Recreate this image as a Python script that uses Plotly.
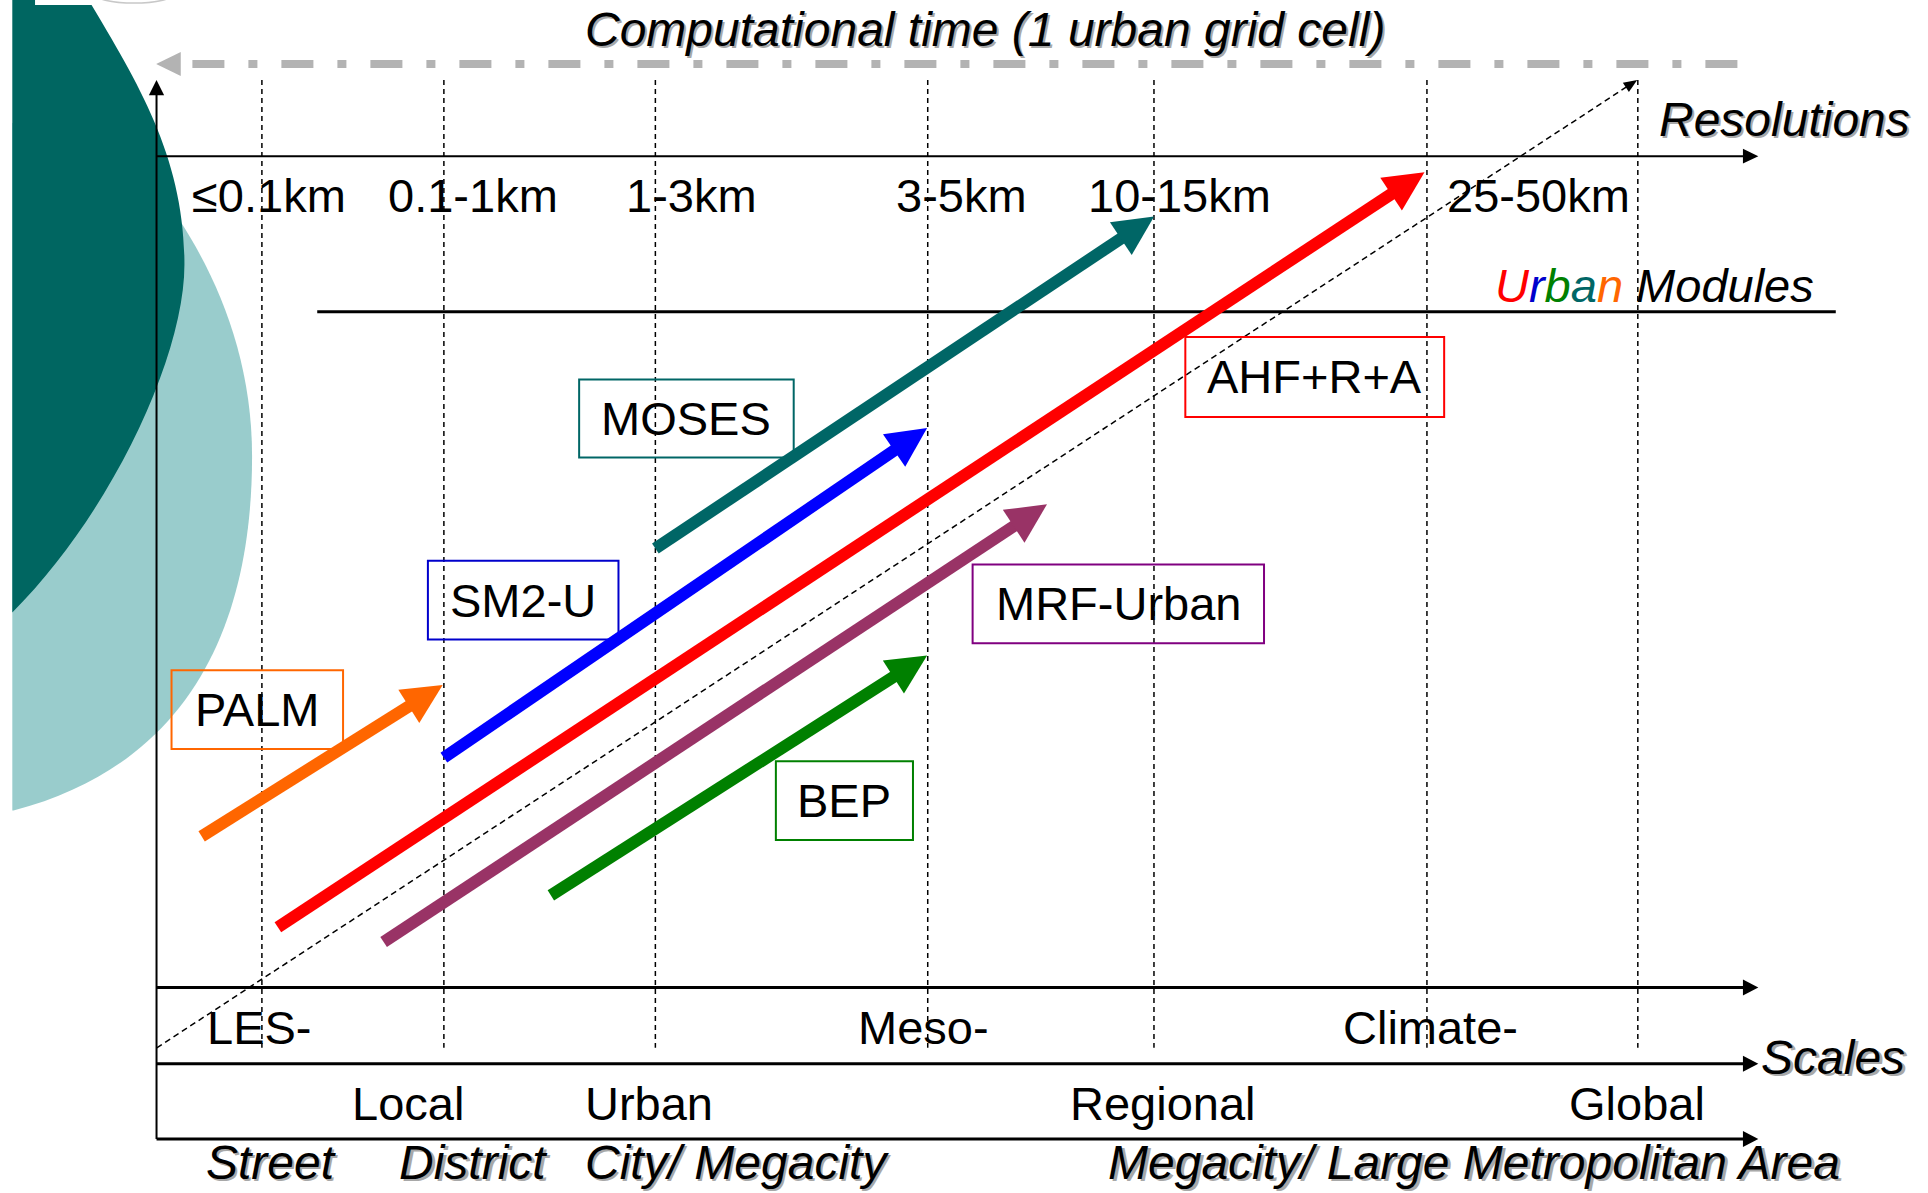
import math
import plotly.graph_objects as go

W, H = 1928, 1193
XR, YR = 1568, 970          # diagram units (page is isotropic in these units)

FONT = "Arial, 'Liberation Sans', sans-serif"

# ---------------- data ----------------
grid_x = [213, 361, 533, 754.5, 938.5, 1160.5, 1332]
grid_top, grid_bottom = 65, 852

res_labels = ["≤0.1km", "0.1-1km", "1-3km", "3-5km", "10-15km", "25-50km"]
res_label_x = [218.5, 385, 562, 782, 959, 1251]
res_label_y = 159

scale_row1 = ["LES-", "Meso-", "Climate-"]
scale_row1_x = [211, 751, 1163]
scale_row1_y = 835.5
scale_row2 = ["Local", "Urban", "Regional", "Global"]
scale_row2_x = [331.7, 527.5, 946, 1331]
scale_row2_y = 897
scale_row3 = ["Street", "District", "City/ Megacity", "Megacity/ Large Metropolitan Area"]
scale_row3_x = [220, 385, 599, 1199]
scale_row3_y = 945.5

modules = ["PALM", "SM2-U", "MOSES", "AHF+R+A", "MRF-Urban", "BEP"]
arrow_x0 = [164, 361, 533, 226, 312, 448]
arrow_y0 = [680, 616, 446, 754, 766, 728]
arrow_x1 = [360, 754, 938.6, 1158.5, 851.5, 754]
arrow_y1 = [557, 348, 176, 140, 410, 533]
arrow_colors = ["#ff6600", "#0000ff", "#006666", "#ff0000", "#993366", "#008000"]

box_x0 = [139.5, 348, 471, 964, 791, 631]
box_x1 = [279, 503, 645.5, 1174.5, 1028, 742.5]
box_y0 = [545, 456, 308.5, 274, 459, 619]
box_y1 = [609, 520, 372, 339, 523, 683]
box_colors = ["#ff6600", "#0000cc", "#006666", "#ff0000", "#800080", "#008000"]

axis_x0, axis_x1 = 127.3, 1430
res_axis_y = 127
scale_axes_y = [803, 865, 926]
vaxis_top = 65

diag_x = [127.5, 1331.5]
diag_y = [852, 65]

time_arrow_y = 52
time_arrow_x = [1413, 127]

urban_line_x = [258, 1493]
urban_line_y = 253.5

urban_word = ["U", "r", "b", "a", "n"]
urban_colors = ["#ff0000", "#0000cc", "#008000", "#006666", "#ff6600"]

# ---------------- helpers ----------------
shapes = []
annotations = []


def line(x0, y0, x1, y1, color, width, dash=None):
    ln = dict(color=color, width=width)
    if dash:
        ln["dash"] = dash
    shapes.append(dict(type="line", xref="x", yref="y", x0=x0, y0=y0, x1=x1, y1=y1,
                       line=ln, layer="above"))


def head(xs, ys, xt, yt, L, hw, color):
    dx, dy = xt - xs, yt - ys
    n = math.hypot(dx, dy)
    ux, uy = dx / n, dy / n
    bx, by = xt - L * ux, yt - L * uy
    px, py = -uy, ux
    p = (f"M {xt:.2f},{yt:.2f} L {bx + hw * px:.2f},{by + hw * py:.2f} "
         f"L {bx - hw * px:.2f},{by - hw * py:.2f} Z")
    shapes.append(dict(type="path", xref="x", yref="y", path=p, fillcolor=color,
                       line=dict(width=0), layer="above"))


def arrow(xs, ys, xt, yt, color, width, L, hw, dash=None):
    n = math.hypot(xt - xs, yt - ys)
    k = (L - 1) if dash else 0.6 * L
    ex, ey = xt - k * (xt - xs) / n, yt - k * (yt - ys) / n
    line(xs, ys, ex, ey, color, width, dash)
    head(xs, ys, xt, yt, L, hw, color)


def text(x, y, s, size=47, italic=False, shadow=False, xanchor="center", color="black"):
    style = "italic" if italic else "normal"
    if shadow:
        annotations.append(dict(x=x, y=y, xref="x", yref="y", text=s, showarrow=False,
                                xanchor=xanchor, yanchor="middle", xshift=2.5, yshift=-2,
                                font=dict(family=FONT, size=size, color="#a8a8a8", style=style)))
    annotations.append(dict(x=x, y=y, xref="x", yref="y", text=s, showarrow=False,
                            xanchor=xanchor, yanchor="middle",
                            font=dict(family=FONT, size=size, color=color, style=style)))


# ---------------- background decoration ----------------
shapes.append(dict(type="path", xref="x", yref="y", layer="below",
                   path="M 10,100 L 90,110 C 140,160 205,250 205,371 C 205,500 160,620 11,659 L 10,659 Z",
                   fillcolor="#99cccc", line=dict(width=0)))
shapes.append(dict(type="path", xref="x", yref="y", layer="below",
                   path="M 10,-5 L 72,-5 L 72,0 C 114,70 150,130 150,215 C 150,290 90,418 10,498 Z",
                   fillcolor="#006661", line=dict(width=0)))
shapes.append(dict(type="rect", xref="x", yref="y", layer="below",
                   x0=28.5, x1=79, y0=-5, y1=4, fillcolor="white", line=dict(width=0)))
shapes.append(dict(type="circle", xref="x", yref="y", layer="below",
                   x0=76, x1=142, y0=-13.5, y1=2.5, line=dict(color="#c8c8c8", width=1.5)))

# ---------------- grid / axes ----------------
for gx in grid_x:
    line(gx, grid_top, gx, grid_bottom, "black", 1.5, "5px,4px")

# vertical axis
line(axis_x0, scale_axes_y[-1], axis_x0, vaxis_top + 10, "black", 2)
head(axis_x0, scale_axes_y[-1], axis_x0, vaxis_top, 12.5, 6.2, "black")

# resolution axis
line(axis_x0, res_axis_y, axis_x1 - 10, res_axis_y, "black", 2)
head(axis_x0, res_axis_y, axis_x1, res_axis_y, 12.5, 6, "black")

# scale axes
for sy in scale_axes_y:
    line(axis_x0, sy, axis_x1 - 10, sy, "black", 3)
    head(axis_x0, sy, axis_x1, sy, 12.5, 6.5, "black")

# urban modules separator
line(urban_line_x[0], urban_line_y, urban_line_x[1], urban_line_y, "black", 3)

# dashed diagonal arrow
arrow(diag_x[0], diag_y[0], diag_x[1], diag_y[1], "black", 1.5, 11, 4.5, dash="6px,4px")

# computational time arrow (grey dash-dot, pointing left)
line(time_arrow_x[0], time_arrow_y, time_arrow_x[1] + 19, time_arrow_y, "#b3b3b3", 8,
     "32px,24px,9px,24px")
head(time_arrow_x[0], time_arrow_y, time_arrow_x[1], time_arrow_y, 20, 9.8, "#b3b3b3")

# module boxes
for i, m in enumerate(modules):
    shapes.append(dict(type="rect", xref="x", yref="y", layer="above",
                       x0=box_x0[i], x1=box_x1[i], y0=box_y0[i], y1=box_y1[i],
                       line=dict(color=box_colors[i], width=2)))

# thick module arrows
for i, m in enumerate(modules):
    arrow(arrow_x0[i], arrow_y0[i], arrow_x1[i], arrow_y1[i], arrow_colors[i], 12, 32.5, 16)

# ---------------- texts ----------------
for i, m in enumerate(modules):
    text((box_x0[i] + box_x1[i]) / 2, (box_y0[i] + box_y1[i]) / 2, m)

for s, x in zip(res_labels, res_label_x):
    text(x, res_label_y, s)
for s, x in zip(scale_row1, scale_row1_x):
    text(x, scale_row1_y, s)
for s, x in zip(scale_row2, scale_row2_x):
    text(x, scale_row2_y, s)
for s, x in zip(scale_row3, scale_row3_x):
    text(x, scale_row3_y, s, size=48, italic=True, shadow=True)

text(801, 24, "Computational time (1 urban grid cell)", size=48, italic=True, shadow=True)
text(1451, 97, "Resolutions", size=48, italic=True, shadow=True)
text(1491, 860, "Scales", size=48, italic=True, shadow=True)

urban_txt = "".join(f'<span style="color:{c}">{ch}</span>' for ch, c in zip(urban_word, urban_colors))
text(1477, 232.5, urban_txt + " Modules", size=47, italic=True, xanchor="right")

# ---------------- figure ----------------
fig = go.Figure()
fig.update_layout(
    width=W, height=H,
    margin=dict(l=0, r=0, t=0, b=0),
    paper_bgcolor="white", plot_bgcolor="white",
    xaxis=dict(range=[0, XR], visible=False, fixedrange=True),
    yaxis=dict(range=[YR, 0], visible=False, fixedrange=True),
    showlegend=False,
    shapes=shapes,
    annotations=annotations,
)
fig.write_html("out.html", config={"displayModeBar": False})
